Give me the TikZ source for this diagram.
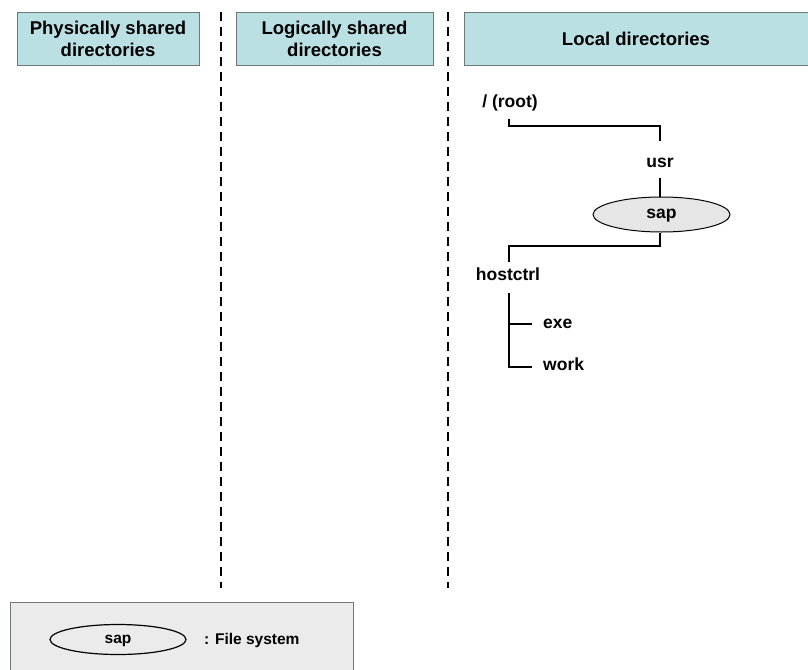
\documentclass[tikz,border=0pt]{standalone}
\usepackage{fontspec}
\setmainfont{Liberation Sans}
\usetikzlibrary{shapes.geometric}
\definecolor{headfill}{RGB}{186,224,228}
\definecolor{headline}{RGB}{110,120,120}
\definecolor{fsfill}{RGB}{230,230,230}
\definecolor{legendfill}{RGB}{235,235,235}
\begin{document}
\begin{tikzpicture}[x=1pt,y=-1pt,
  header/.style={draw=headline,fill=headfill,line width=0.8pt,inner sep=0pt,align=center,
    font=\fontsize{18.5}{22}\selectfont\bfseries},
  dir/.style={inner sep=0pt,font=\fontsize{17.5}{20}\selectfont\bfseries},
  fs/.style={ellipse,draw,line width=1pt,fill=fsfill,inner sep=0pt},
  branch/.style={line width=1.3pt},
  divider/.style={line width=1.2pt,dash pattern=on 9pt off 6pt}]
\useasboundingbox (0,0) rectangle (808,669);

% column headers
\node[header,minimum width=182pt,minimum height=53pt] (h1) at (108,38.5) {Physically shared\\directories};
\node[header,minimum width=197pt,minimum height=53pt] (h2) at (334.5,38.5) {Logically shared\\directories};
\node[header,minimum width=344pt,minimum height=53pt] (h3) at (636,38.5) {Local directories};

% column dividers
\coordinate (d1t) at (221,12);
\coordinate (d1b) at (221,588);
\coordinate (d2t) at (448,12);
\coordinate (d2b) at (448,588);
\draw[divider] (d1t) -- (d1b);
\draw[divider] (d2t) -- (d2b);

% directory tree
\node[dir] (root) at (510,102.5) {/ (root)};
\node[dir] (usr) at (660,162.5) {usr};
\node[fs,minimum width=137pt,minimum height=35pt] (sap) at (661.5,214.5) {};
\node[dir] (saplabel) at (661.5,216) {sap};
\node[dir] (hostctrl) at (508,274) {hostctrl};
\node[dir,anchor=west] (exe) at (543,323.5) {exe};
\node[dir,anchor=west] (work) at (543,364.5) {work};

\coordinate (r0) at (509,119);
\coordinate (u0) at (660,141);
\draw[branch] (r0) -- (509,126) -- (660,126) -- (u0);
\coordinate (u1) at (660,178);
\draw[branch] (u1) -- (sap.north -| u1);
\coordinate (h0) at (509,262);
\draw[branch] (sap.south -| u1) -- (660,246) -- (509,246) -- (h0);
\coordinate (h1t) at (509,293);
\coordinate (e0) at (532,324);
\coordinate (w0) at (532,367);
\draw[branch] (h1t) -- (509,367) -- (w0);
\draw[branch] (509,324) -- (e0);

% legend
\node[draw=headline,fill=legendfill,line width=0.8pt,minimum width=343pt,minimum height=70pt,inner sep=0pt] (legend) at (181.5,637) {};
\node[ellipse,draw,line width=1.2pt,minimum width=136pt,minimum height=30pt,inner sep=0pt] (lsap) at (118,639.5) {};
\node[inner sep=0pt,font=\fontsize{15.5}{18}\selectfont\bfseries] (lsaplabel) at (118,641) {sap};
\node[anchor=west,inner sep=0pt,font=\fontsize{15.5}{18}\selectfont\bfseries] (ltext) at (204,640.5) {: File system};
\end{tikzpicture}
\end{document}
